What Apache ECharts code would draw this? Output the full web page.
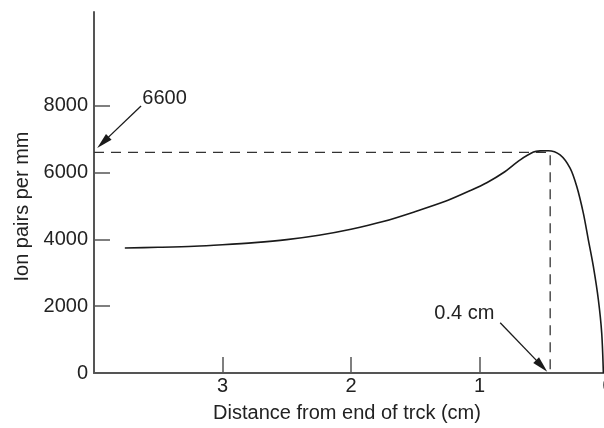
<!DOCTYPE html>
<html>
<head>
<meta charset="utf-8">
<script src="https://cdn.jsdelivr.net/npm/echarts@6/dist/echarts.min.js"></script>
<style>
html,body{margin:0;padding:0;background:#fff;}
#c{width:604px;height:428px;}
</style>
</head>
<body>
<div id="c"></div>
<script>
// Distance from end of track (cm), ascending, and ion pairs per mm
const distance = [0.036, 0.049, 0.075, 0.114, 0.153, 0.192, 0.243, 0.295, 0.373, 0.466, 0.528, 0.58, 0.683, 0.815, 0.94, 1.07, 1.25, 1.5, 1.75, 2.0, 2.25, 2.5, 2.75, 3.0, 3.22, 3.5, 3.76];
const ionPairs = [0, 1195, 2191, 3187, 3985, 4783, 5578, 6129, 6526, 6650, 6646, 6610, 6377, 5990, 5700, 5460, 5160, 4830, 4530, 4300, 4120, 3990, 3900, 3835, 3790, 3760, 3740];
const xTickValues = [1, 2, 3];
const xLabelValues = [0, 1, 2, 3];
const yTickValues = [2000, 4000, 6000, 8000];
const yLabelValues = [0, 2000, 4000, 6000, 8000];
const peakValue = 6600;
const peakDistance = 0.45;
const peakLabel = '6600';
const rangeLabel = '0.4 cm';

const font = 'Liberation Sans, Arial, Helvetica, sans-serif';
const textColor = '#222';
const axisColor = '#555';

const chart = echarts.init(document.getElementById('c'), null, {renderer: 'canvas'});
const curve = distance.map((d, i) => [d, ionPairs[i]]);
const guide = [[4, peakValue], [peakDistance, peakValue], [peakDistance, 0]];

chart.setOption({
  animation: false,
  backgroundColor: '#fff',
  grid: {left: 94, top: 12, width: 514, height: 361, containLabel: false, outerBoundsMode: 'none'},
  xAxis: {
    type: 'value', inverse: true, min: 0, max: 4, interval: 1,
    name: 'Distance from end of trck (cm)', nameLocation: 'middle', nameGap: 30,
    nameTextStyle: {fontFamily: font, fontSize: 20, color: textColor, padding: [0, 8, 0, 0]},
    axisLine: {show: true, onZero: false, lineStyle: {color: axisColor, width: 2}},
    axisTick: {show: true, inside: true, length: 16, customValues: xTickValues, lineStyle: {color: axisColor, width: 1.5}},
    axisLabel: {fontFamily: font, fontSize: 20, color: textColor, margin: 3, customValues: xLabelValues, formatter: v => String(v), hideOverlap: false},
    splitLine: {show: false}
  },
  yAxis: {
    type: 'value', min: 0, max: 10800, interval: 2000,
    name: 'Ion pairs per mm', nameLocation: 'middle', nameGap: 62,
    nameTextStyle: {fontFamily: font, fontSize: 20, color: textColor, padding: [0, 28, 0, 0]},
    axisLine: {show: true, onZero: false, lineStyle: {color: axisColor, width: 2}},
    axisTick: {show: true, inside: true, length: 16, customValues: yTickValues, lineStyle: {color: axisColor, width: 1.5}},
    axisLabel: {fontFamily: font, fontSize: 20, color: textColor, margin: 6, customValues: yLabelValues, formatter: v => String(v)},
    splitLine: {show: false}
  },
  series: [
    {
      type: 'line', data: curve, smooth: 0.3, symbol: 'none', silent: true, clip: false,
      lineStyle: {color: '#1a1a1a', width: 1.6}
    },
    {
      type: 'line', data: guide, symbol: 'none', silent: true,
      lineStyle: {color: '#333', width: 1.3, type: [10, 7]},
      markLine: {
        silent: true, symbol: ['none', 'triangle'], symbolSize: [8, 16],
        label: {show: false},
        lineStyle: {color: '#1a1a1a', width: 1.3, type: 'solid'},
        data: [
          [{coord: [3.634, 7990]}, {coord: [3.93, 6900]}],
          [{coord: [0.839, 1504]}, {coord: [0.516, 212]}]
        ]
      },
      markPoint: {
        silent: true, symbol: 'circle', symbolSize: 0,
        label: {show: true, position: 'inside', fontFamily: font, fontSize: 20, color: textColor, formatter: p => p.name},
        data: [
          {name: peakLabel, coord: [3.451, 8200]},
          {name: rangeLabel, coord: [1.118, 1775]}
        ]
      }
    }
  ]
});
</script>
</body>
</html>
